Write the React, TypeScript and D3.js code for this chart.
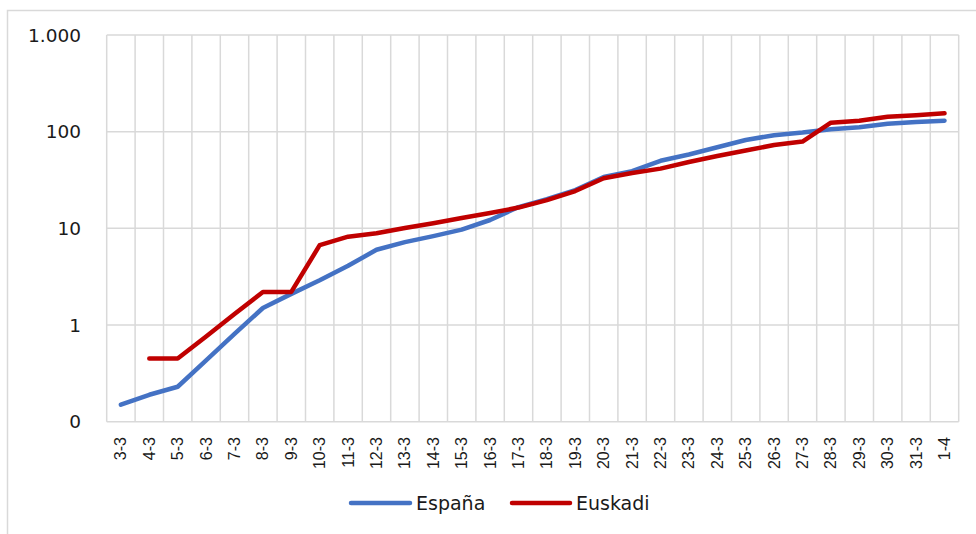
import { useMemo } from 'react';
import * as d3 from 'd3';

const WIDTH = 976;
const HEIGHT = 534;

const categories = [
  '3-3', '4-3', '5-3', '6-3', '7-3', '8-3', '9-3', '10-3', '11-3', '12-3',
  '13-3', '14-3', '15-3', '16-3', '17-3', '18-3', '19-3', '20-3', '21-3', '22-3',
  '23-3', '24-3', '25-3', '26-3', '27-3', '28-3', '29-3', '30-3', '31-3', '1-4',
];

const espana: (number | null)[] = [
  0.15, 0.19, 0.23, 0.43, 0.81, 1.5, 2.1, 2.9, 4.1, 6.0,
  7.2, 8.3, 9.7, 12.2, 16.6, 20, 24.9, 34, 39, 50,
  58, 69, 82, 92, 98, 106, 111, 121, 126, 130,
];

const euskadi: (number | null)[] = [
  null, 0.45, 0.45, 0.76, 1.3, 2.2, 2.2, 6.7, 8.2, 8.9,
  10.1, 11.3, 12.8, 14.4, 16.4, 19.6, 24.3, 33, 37.3, 41.5,
  48.5, 56, 63.8, 72.7, 79, 124, 130, 143, 148, 155,
];

const yTicks = [0.1, 1, 10, 100, 1000];
const yTickLabels = ['0', '1', '10', '100', '1.000'];

const series = [
  { name: 'España', values: espana, color: '#4472C4' },
  { name: 'Euskadi', values: euskadi, color: '#C00000' },
];

const PLOT = { left: 106.7, right: 958.7, top: 35, bottom: 421.7 };
const GRID = '#D9D9D9';
const TEXT = '#1a1a1a';

export default function App() {
  const x = useMemo(
    () => d3.scaleBand<string>().domain(categories).range([PLOT.left, PLOT.right]),
    [],
  );
  const y = useMemo(
    () => d3.scaleLog().domain([0.1, 1000]).range([PLOT.bottom, PLOT.top]),
    [],
  );

  const lineGen = d3
    .line<number | null>()
    .defined((d) => d !== null)
    .x((_, i) => (x(categories[i]) ?? 0) + x.bandwidth() / 2)
    .y((d) => y(d as number));

  const boundaries = categories.map((c) => x(c) ?? 0).concat([PLOT.right]);

  return (
    <svg
      width={WIDTH}
      height={HEIGHT}
      style={{ position: 'absolute', left: 0, top: 0, background: '#fff' }}
    >
      <rect x={7.5} y={10.5} width={1000} height={600} fill="#fff" stroke={GRID} strokeWidth={1.5} />

      {/* horizontal gridlines */}
      {yTicks.map((t) => (
        <line key={`h${t}`} x1={PLOT.left} x2={PLOT.right} y1={y(t)} y2={y(t)} stroke={GRID} strokeWidth={1.5} />
      ))}
      {/* vertical gridlines */}
      {boundaries.map((bx, i) => (
        <line key={`v${i}`} x1={bx} x2={bx} y1={PLOT.top} y2={PLOT.bottom} stroke={GRID} strokeWidth={1.5} />
      ))}

      {/* y labels */}
      {yTicks.map((t, i) => (
        <text
          key={`yl${t}`}
          x={81}
          y={y(t)}
          textAnchor="end"
          dominantBaseline="central"
          fontFamily="DejaVu Sans"
          fontSize={18.5}
          fill={TEXT}
        >
          {yTickLabels[i]}
        </text>
      ))}

      {/* x labels */}
      {categories.map((c) => (
        <text
          key={`xl${c}`}
          transform={`translate(${(x(c) ?? 0) + x.bandwidth() / 2}, 437) rotate(-90)`}
          textAnchor="end"
          dominantBaseline="central"
          fontFamily="Liberation Sans"
          fontSize={16}
          fill={TEXT}
        >
          {c}
        </text>
      ))}

      {/* series */}
      {series.map((s) => (
        <path
          key={s.name}
          d={lineGen(s.values) ?? ''}
          fill="none"
          stroke={s.color}
          strokeWidth={4.5}
          strokeLinecap="round"
          strokeLinejoin="round"
        />
      ))}

      {/* legend */}
      <g>
        <line x1={351} x2={410} y1={503} y2={503} stroke={series[0].color} strokeWidth={4.5} strokeLinecap="round" />
        <text x={416} y={503} dominantBaseline="central" fontFamily="DejaVu Sans" fontSize={19} fill={TEXT}>
          {series[0].name}
        </text>
        <line x1={512} x2={570} y1={503} y2={503} stroke={series[1].color} strokeWidth={4.5} strokeLinecap="round" />
        <text x={576} y={503} dominantBaseline="central" fontFamily="DejaVu Sans" fontSize={19} fill={TEXT}>
          {series[1].name}
        </text>
      </g>
    </svg>
  );
}
